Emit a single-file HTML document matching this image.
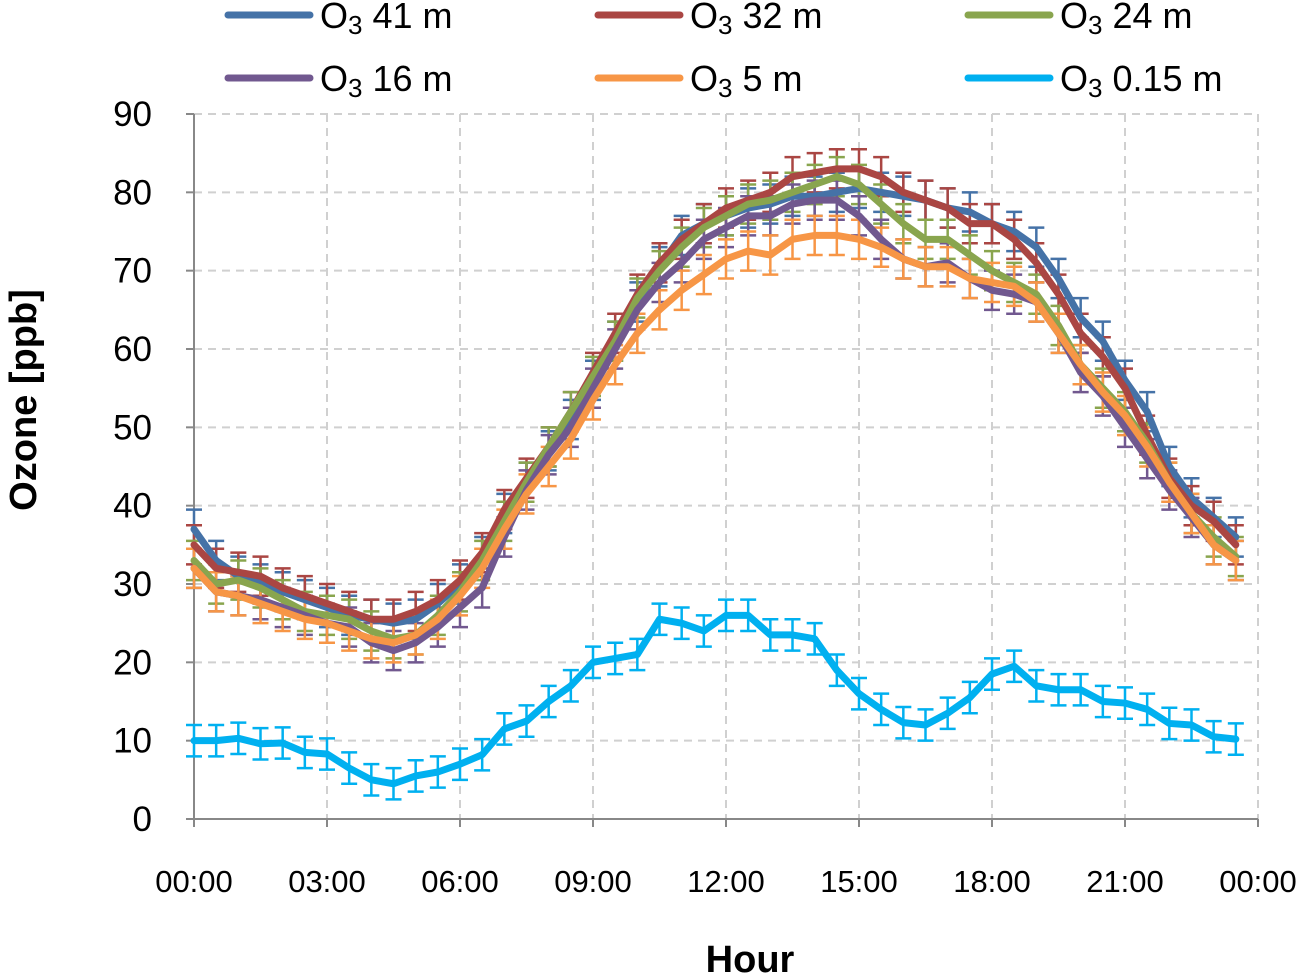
<!DOCTYPE html>
<html><head><meta charset="utf-8"><style>
body{margin:0;background:#fff;}
svg{display:block;font-family:"Liberation Sans",sans-serif;}
</style></head><body>
<svg id="chart" width="1299" height="975"></svg>
<script>
const hours=[];for(let i=0;i<48;i++)hours.push(i*0.5);
const o3_41=[37,33,31,30,29,28,27,26,25.5,25,25.5,27.5,30,33.5,39,43,47,51,56,61,66,70.5,74.5,76,77,78,78.5,79.5,79.5,80,80.5,80,79.5,79,78,77.5,76,75,73,69,64,61,56,52,45,41,38.5,36];
const o3_32=[35,32,31.5,31,29.5,28.5,27.5,26.5,25.5,25.5,26.5,28,30.5,34,39.5,43.5,47.5,52,57,62,67,71,74,76,78,79,80,82,82.5,83,83,82,80,79,78,76,76,74,71,67,62,59,55,49,43.5,40,38,35];
const o3_24=[33,30,30.5,29.5,28,26.5,26,25.5,24,23,23.5,26,29,33,38,43,47.5,52,56.5,61,66.5,70,73,75.5,77,78.5,79,80,81,82,81,78.5,76,74,74,72,70,68.5,67,63,58,55,52,48,43,39,36,33.5];
const o3_16=[32,29,28.5,28,27,26,25,24.5,22.5,21.5,22.5,24.5,27,29.5,36,42,46.5,50,55,60,65,68.5,71,74,75.5,77,77,78.5,79,79,77,74,71.5,70.5,71,69,67.5,67,66,62,57,54,50,46,42,38.5,35,33];
const o3_5=[32,29,28.5,27.5,26.5,25.5,25,24,23,22.5,23.5,25.5,28.5,32,37,41.5,45,48.5,53.5,58,62,65,67.5,69.5,71.5,72.5,72,74,74.5,74.5,74,73,71.5,70.5,70.5,69,68.5,68,66,62,58,54.5,51.5,47.5,43,39,35,33];
const o3_015=[10,10,10.3,9.6,9.7,8.5,8.3,6.5,5,4.5,5.5,6,7,8.2,11.5,12.5,15,17,20,20.5,21,25.5,25,24,26,26,23.5,23.5,23,19,16,14,12.3,12,13.5,15.5,18.5,19.5,17,16.5,16.5,15,14.8,14,12.2,12,10.5,10.2];
const errTop=2.5, errLow=2;
const yTicks=[0,10,20,30,40,50,60,70,80,90];
const xTicks=[0,3,6,9,12,15,18,21,24];
const xTickLabels=["00:00","03:00","06:00","09:00","12:00","15:00","18:00","21:00","00:00"];
const seriesNames=["41 m","32 m","24 m","16 m","5 m","0.15 m"];
const NS="http://www.w3.org/2000/svg";
const svg=document.getElementById('chart');
const X0=194,X1=1258,Y0=819,Y1=114;
const xs=h=>X0+(X1-X0)*h/24, ys=v=>Y0-(Y0-Y1)*v/90;
function mk(t,a,p){const e=document.createElementNS(NS,t);for(const k in a)e.setAttribute(k,a[k]);(p||svg).appendChild(e);return e;}
const grid=mk('g',{});


yTicks.forEach(v=>{if(v>0)mk('line',{x1:X0,x2:X1,y1:ys(v),y2:ys(v),stroke:'#d0d0d0','stroke-width':2,'stroke-dasharray':'8,6'},grid);
 const t=mk('text',{x:152,y:ys(v)+12,'text-anchor':'end','font-size':35,fill:'#000'});t.textContent=v;
 
 
 mk('line',{x1:X0-8,x2:X0,y1:ys(v),y2:ys(v),stroke:'#888','stroke-width':2});});
xTicks.forEach((h,i)=>{if(h>0)mk('line',{x1:xs(h),x2:xs(h),y1:Y1,y2:Y0,stroke:'#d0d0d0','stroke-width':2,'stroke-dasharray':'8,6'},grid);
 mk('line',{x1:xs(h),x2:xs(h),y1:Y0,y2:Y0+8,stroke:'#888','stroke-width':2});
 const t=mk('text',{x:xs(h),y:892,'text-anchor':'middle','font-size':31,fill:'#000'});t.textContent=xTickLabels[i];
 
 });
const ax=mk('path',{d:`M${X0},${Y1}V${Y0}H${X1}`,stroke:'#888','stroke-width':2,fill:'none'});


const data=[o3_41,o3_32,o3_24,o3_16,o3_5,o3_015];
const colors=['#4572a7','#aa4643','#89a54e','#71588f','#f79646','#00b0f0'];
data.forEach((d,si)=>{const g=mk('g',{});
 
 
 const e=si==5?errLow:errTop;
 d.forEach((v,i)=>{const x=xs(hours[i]);const a=ys(v+e),b=ys(v-e);
  mk('path',{d:`M${x},${a}V${b}M${x-8},${a}H${x+8}M${x-8},${b}H${x+8}`,stroke:colors[si],'stroke-width':2.5,fill:'none'},g);});});
data.forEach((d,si)=>{const p=mk('polyline',{points:d.map((v,i)=>xs(hours[i])+','+ys(v)).join(' '),stroke:colors[si],'stroke-width':7,fill:'none','stroke-linejoin':'round','stroke-linecap':'round'});
 
 });
const lx=[228,598,968],ly=[15,78];
seriesNames.forEach((n,i)=>{const g=mk('g',{});
 
 
 const x=lx[i%3],y=ly[Math.floor(i/3)];
 mk('line',{x1:x,x2:x+82,y1:y,y2:y,stroke:colors[i],'stroke-width':7,'stroke-linecap':'round'},g);
 const t=mk('text',{x:x+92,y:y+13,'font-size':36,fill:'#000'},g);
 t.innerHTML='O<tspan font-size="26" dy="6">3</tspan><tspan dy="-6"> '+n+'</tspan>';});
const yt=mk('text',{x:36,y:400,'text-anchor':'middle','font-size':38,'font-weight':'bold',transform:'rotate(-90 36 400)'});yt.textContent='Ozone [ppb]';


const xt=mk('text',{x:750,y:972,'text-anchor':'middle','font-size':38,'font-weight':'bold'});xt.textContent='Hour';


</script>
</body></html>
